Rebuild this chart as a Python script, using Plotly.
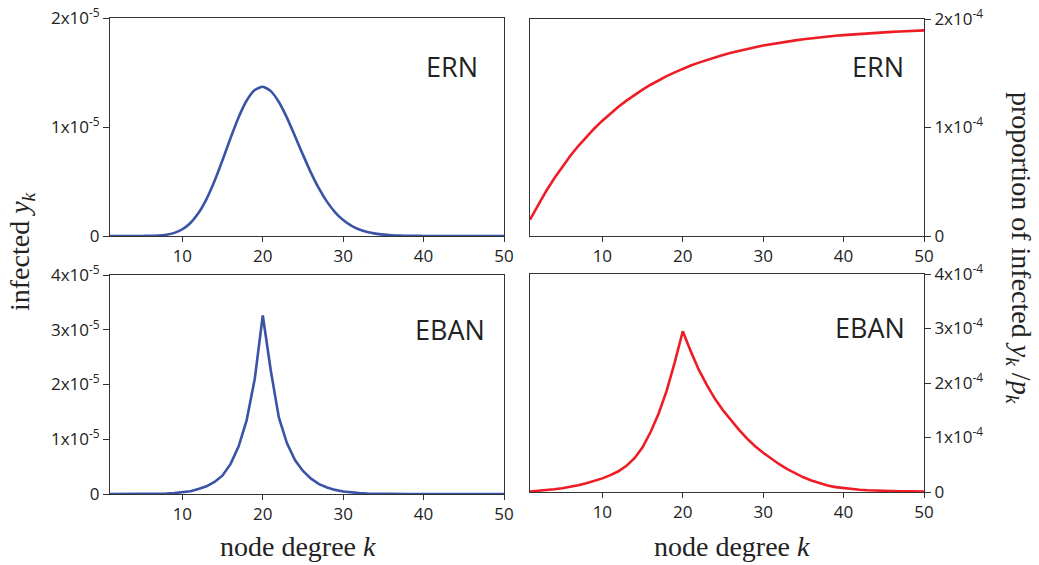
import plotly.graph_objects as go

# node degree k
degree = list(range(1, 51))

# ERN: infected y_k (units of 1e-6)
ern_infected_e6 = [0.0, 0.0, 0.0001, 0.0007, 0.0035, 0.0135, 0.0434, 0.1195, 0.288, 0.618,
                   1.196, 2.102, 3.385, 5.040, 6.968, 9.001, 10.900, 12.432, 13.397, 13.690,
                   13.292, 12.292, 10.863, 9.180, 7.442, 5.793, 4.340, 3.131, 2.178, 1.465,
                   0.952, 0.599, 0.365, 0.216, 0.124, 0.069, 0.038, 0.020, 0.010, 0.005,
                   0.002, 0.001, 0.0, 0.0, 0.0, 0.0, 0.0, 0.0, 0.0, 0.0]

# ERN: proportion of infected y_k / p_k (units of 1e-4)
ern_proportion_e4 = [0.150, 0.287, 0.413, 0.530, 0.638, 0.737, 0.829, 0.913, 0.991, 1.063,
                     1.130, 1.192, 1.248, 1.301, 1.349, 1.394, 1.435, 1.473, 1.508, 1.541,
                     1.571, 1.598, 1.624, 1.647, 1.669, 1.689, 1.708, 1.725, 1.740, 1.755,
                     1.768, 1.781, 1.792, 1.803, 1.813, 1.822, 1.830, 1.838, 1.845, 1.851,
                     1.857, 1.863, 1.868, 1.873, 1.877, 1.881, 1.885, 1.889, 1.892, 1.895]

# EBAN: infected y_k (units of 1e-5)
eban_infected_e5 = [0.0, 0.0, 0.0, 0.001, 0.002, 0.004, 0.006, 0.010, 0.016, 0.027,
                    0.05, 0.09, 0.14, 0.22, 0.34, 0.55, 0.87, 1.35, 2.10, 3.26,
                    2.25, 1.40, 0.93, 0.62, 0.42, 0.28, 0.18, 0.12, 0.075, 0.045,
                    0.028, 0.017, 0.010, 0.006, 0.004, 0.002, 0.001, 0.0, 0.0, 0.0,
                    0.0, 0.0, 0.0, 0.0, 0.0, 0.0, 0.0, 0.0, 0.0, 0.0]

# EBAN: proportion of infected y_k / p_k (units of 1e-4)
eban_proportion_e4 = [0.01, 0.02, 0.035, 0.05, 0.07, 0.095, 0.125, 0.16, 0.20, 0.25,
                      0.31, 0.38, 0.48, 0.62, 0.82, 1.10, 1.44, 1.86, 2.38, 2.95,
                      2.58, 2.24, 1.96, 1.71, 1.50, 1.31, 1.14, 0.98, 0.84, 0.72,
                      0.61, 0.51, 0.42, 0.34, 0.27, 0.21, 0.16, 0.12, 0.09, 0.07,
                      0.055, 0.042, 0.032, 0.025, 0.020, 0.016, 0.013, 0.011, 0.009, 0.008]

x_ticks = [10, 20, 30, 40, 50]
x_tick_text = ["10", "20", "30", "40", "50"]
ern_y_ticks = [0, 1e-5, 2e-5]
ern_y_text = ["0", "1x10<sup>-5</sup>", "2x10<sup>-5</sup>"]
ern_p_ticks = [0, 1e-4, 2e-4]
ern_p_text = ["0", "1x10<sup>-4</sup>", "2x10<sup>-4</sup>"]
eban_y_ticks = [0, 1e-5, 2e-5, 3e-5, 4e-5]
eban_y_text = ["0", "1x10<sup>-5</sup>", "2x10<sup>-5</sup>", "3x10<sup>-5</sup>", "4x10<sup>-5</sup>"]
eban_p_ticks = [0, 1e-4, 2e-4, 3e-4, 4e-4]
eban_p_text = ["0", "1x10<sup>-4</sup>", "2x10<sup>-4</sup>", "3x10<sup>-4</sup>", "4x10<sup>-4</sup>"]

BLUE = "#3a53a4"
RED = "#ee1c25"
AXIS = "#333333"
W, H = 1039, 565

fig = go.Figure()
fig.add_trace(go.Scatter(x=degree, y=[v * 1e-6 for v in ern_infected_e6], mode="lines",
                         line=dict(color=BLUE, width=2.6, shape="spline", smoothing=0.6),
                         xaxis="x", yaxis="y"))
fig.add_trace(go.Scatter(x=degree, y=[v * 1e-4 for v in ern_proportion_e4], mode="lines",
                         line=dict(color=RED, width=2.6), xaxis="x2", yaxis="y2"))
fig.add_trace(go.Scatter(x=degree, y=[v * 1e-5 for v in eban_infected_e5], mode="lines",
                         line=dict(color=BLUE, width=2.6), xaxis="x3", yaxis="y3"))
fig.add_trace(go.Scatter(x=degree, y=[v * 1e-4 for v in eban_proportion_e4], mode="lines",
                         line=dict(color=RED, width=2.6), xaxis="x4", yaxis="y4"))


def px_x(a, b):
    return [a / W, b / W]


def px_y(top, bottom):
    return [1 - bottom / H, 1 - top / H]


tick_font = dict(family="Open Sans", size=17, color="#222222")


def xaxis(domain, anchor):
    return dict(domain=domain, anchor=anchor, range=[1, 50], tickvals=x_ticks,
                ticktext=x_tick_text, showline=True, linecolor=AXIS, linewidth=1,
                mirror=True, ticks="outside", ticklen=5, tickcolor=AXIS,
                tickfont=tick_font, showgrid=False, zeroline=False, fixedrange=True,
                automargin=False)


def yaxis(domain, anchor, rng, vals, text, side):
    return dict(domain=domain, anchor=anchor, range=rng, tickvals=vals, ticktext=text,
                side=side, showline=True, linecolor=AXIS, linewidth=1, mirror=True,
                ticks="outside", ticklen=6, tickcolor=AXIS, tickfont=tick_font,
                showgrid=False, zeroline=False, fixedrange=True, automargin=False)


fig.update_layout(
    template="none",
    width=W, height=H,
    margin=dict(l=0, r=0, t=0, b=0),
    paper_bgcolor="white", plot_bgcolor="white",
    showlegend=False,
    xaxis=xaxis(px_x(110, 504), "y"),
    yaxis=yaxis(px_y(18, 236), "x", [0, 2e-5], ern_y_ticks, ern_y_text, "left"),
    xaxis2=xaxis(px_x(530, 924), "y2"),
    yaxis2=yaxis(px_y(19, 236), "x2", [0, 2e-4], ern_p_ticks, ern_p_text, "right"),
    xaxis3=xaxis(px_x(110, 504), "y3"),
    yaxis3=yaxis(px_y(275, 494), "x3", [0, 4e-5], eban_y_ticks, eban_y_text, "left"),
    xaxis4=xaxis(px_x(530, 924), "y4"),
    yaxis4=yaxis(px_y(274, 492), "x4", [0, 4e-4], eban_p_ticks, eban_p_text, "right"),
)

label_font = dict(family="Open Sans", size=27, color="#222222")
serif_font = dict(family="Liberation Serif", size=28, color="#222222")


def note(text, cx, cy, font, angle=0):
    fig.add_annotation(text=text, x=cx / W, y=1 - cy / H, xref="paper", yref="paper",
                       xanchor="center", yanchor="middle", showarrow=False,
                       font=font, textangle=angle)


note("ERN", 452, 66, label_font)
note("ERN", 878, 66, label_font)
note("EBAN", 450, 329, label_font)
note("EBAN", 870, 327, label_font)

note("node degree <i>k</i>", 298, 546, serif_font)
note("node degree <i>k</i>", 732, 546, serif_font)
note("infected <i>y<sub>k</sub></i>", 22, 252, serif_font, -90)
note("proportion of infected <i>y<sub>k</sub></i> /<i>p<sub>k</sub></i>", 1020, 248, serif_font, 90)

fig.write_html("out.html")
